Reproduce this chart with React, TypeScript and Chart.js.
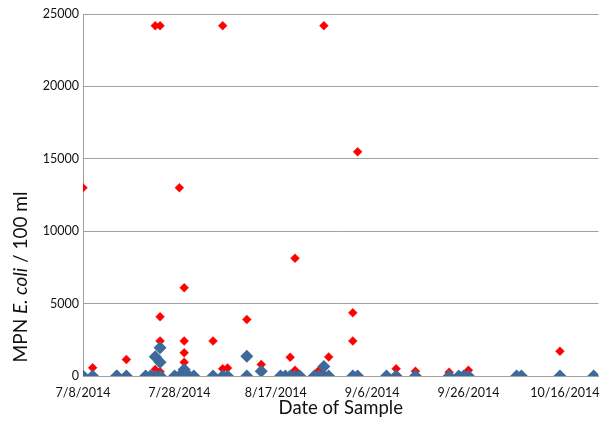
import { useEffect, useRef } from 'react';
import { Chart, registerables } from 'chart.js';

Chart.register(...registerables);

// ---- data ----
const baseDate = '7/8/2014';
const xMaxDays = 107;
const xStepDays = 20;
const yMax = 25000;
const yStep = 5000;

const blueDates = [
  '7/8/2014', '7/10/2014', '7/15/2014', '7/15/2014', '7/17/2014', '7/21/2014', '7/22/2014',
  '7/23/2014', '7/23/2014', '7/24/2014', '7/24/2014', '7/24/2014', '7/24/2014', '7/27/2014',
  '7/28/2014', '7/29/2014', '7/29/2014', '7/30/2014', '7/31/2014', '8/4/2014', '8/6/2014',
  '8/7/2014', '8/11/2014', '8/11/2014', '8/14/2014', '8/18/2014', '8/19/2014', '8/20/2014',
  '8/21/2014', '8/22/2014', '8/25/2014', '8/26/2014', '8/27/2014', '8/27/2014', '8/28/2014',
  '9/2/2014', '9/3/2014', '9/9/2014', '9/11/2014', '9/15/2014', '9/22/2014', '9/24/2014',
  '9/25/2014', '9/26/2014', '10/6/2014', '10/7/2014', '10/15/2014', '10/22/2014',
];
const blueValues = [
  0, 0, 0, 0, 0, 0, 0,
  0, 1330, 0, 1950, 950, 0, 0,
  0, 0, 450, 0, 0, 0, 0,
  0, 0, 1370, 330, 0, 0, 0,
  0, 0, 0, 0, 0, 650, 0,
  0, 0, 0, 0, 0, 0, 0,
  0, 0, 0, 0, 0, 0,
];

const redDates = [
  '7/8/2014', '7/10/2014', '7/17/2014', '7/23/2014', '7/23/2014', '7/24/2014', '7/24/2014',
  '7/24/2014', '7/24/2014', '7/28/2014', '7/29/2014', '7/29/2014', '7/29/2014', '7/29/2014',
  '8/4/2014', '8/6/2014', '8/6/2014', '8/7/2014', '8/11/2014', '8/14/2014', '8/20/2014',
  '8/21/2014', '8/21/2014', '8/26/2014', '8/27/2014', '8/28/2014', '9/2/2014', '9/2/2014',
  '9/3/2014', '9/11/2014', '9/15/2014', '9/22/2014', '9/26/2014', '10/15/2014',
];
const redValues = [
  13000, 570, 1140, 24196, 450, 24196, 4090,
  2420, 300, 13000, 6090, 2420, 1600, 950,
  2420, 24196, 500, 560, 3900, 800, 1300,
  8130, 400, 400, 24196, 1320, 4360, 2420,
  15480, 500, 330, 260, 400, 1710,
];

const yTitleParts = [
  { text: 'MPN ', italic: false },
  { text: 'E. coli', italic: true },
  { text: ' / 100 ml', italic: false },
];
const xTitle = 'Date of Sample';

// ---- helpers ----
const DAY_MS = 86400000;
function parseDate(s: string): number {
  const [m, d, y] = s.split('/').map(Number);
  return Date.UTC(y, m - 1, d);
}
const baseMs = parseDate(baseDate);
function toDay(s: string): number {
  return Math.round((parseDate(s) - baseMs) / DAY_MS);
}
function fmtDay(v: number): string {
  const dt = new Date(baseMs + v * DAY_MS);
  return `${dt.getUTCMonth() + 1}/${dt.getUTCDate()}/${dt.getUTCFullYear()}`;
}

const FONT = 'Lato, "Open Sans", sans-serif';

const yTitlePlugin = {
  id: 'yTitleMixed',
  afterDraw(chart: any) {
    const ctx = chart.ctx as CanvasRenderingContext2D;
    const size = 19;
    const cx = 21;
    const cy = 277;
    ctx.save();
    ctx.translate(cx, cy);
    ctx.rotate(-Math.PI / 2);
    ctx.fillStyle = '#111';
    ctx.textBaseline = 'middle';
    ctx.textAlign = 'left';
    const widths = yTitleParts.map((p) => {
      ctx.font = `${p.italic ? 'italic ' : ''}${size}px ${FONT}`;
      return ctx.measureText(p.text).width;
    });
    const total = widths.reduce((a, b) => a + b, 0);
    let x = -total / 2;
    yTitleParts.forEach((p, i) => {
      ctx.font = `${p.italic ? 'italic ' : ''}${size}px ${FONT}`;
      ctx.fillText(p.text, x, 0);
      x += widths[i];
    });
    ctx.restore();
  },
};

export default function App() {
  const ref = useRef<HTMLCanvasElement | null>(null);

  useEffect(() => {
    if (!ref.current) return;
    const chart = new Chart(ref.current, {
      type: 'scatter',
      data: {
        datasets: [
          {
            label: 'Series 1',
            data: blueDates.map((d, i) => ({ x: toDay(d), y: blueValues[i] })),
            pointStyle: 'rectRot',
            pointRadius: 6.5,
            pointHoverRadius: 6.5,
            backgroundColor: '#3E6A9B',
            borderColor: '#3E6A9B',
            borderWidth: 0,
          },
          {
            label: 'Series 2',
            data: redDates.map((d, i) => ({ x: toDay(d), y: redValues[i] })),
            pointStyle: 'rectRot',
            pointRadius: 4.5,
            pointHoverRadius: 4.5,
            backgroundColor: '#FF0000',
            borderColor: 'rgba(255,0,0,0.35)',
            borderWidth: 1,
          },
        ],
      },
      options: {
        responsive: false,
        animation: false,
        events: [],
        layout: { padding: { top: 14, right: 0, left: 0, bottom: 0 } },
        plugins: {
          legend: { display: false },
          tooltip: { enabled: false },
          title: { display: false },
        },
        scales: {
          x: {
            type: 'linear',
            min: 0,
            max: xMaxDays,
            grid: { display: false, drawTicks: true, tickLength: 9 },
            border: { display: true, color: '#a0a0a0', width: 1 },
            ticks: {
              stepSize: xStepDays,
              includeBounds: false,
              padding: 0,
              color: '#111',
              font: { family: FONT, size: 12.5 },
              maxRotation: 0,
              callback: (v: any) => fmtDay(Number(v)),
            },
            title: {
              display: true,
              text: xTitle,
              color: '#111',
              font: { family: FONT, size: 18.5 },
              padding: { top: 0, bottom: 2 },
            },
            afterFit: (s: any) => {
              s.height = 45;
              s.paddingLeft = 0;
              s.paddingRight = 0;
            },
          },
          y: {
            min: 0,
            max: yMax,
            grid: { color: '#a0a0a0', lineWidth: 1, drawTicks: false },
            border: { display: true, color: '#a0a0a0', width: 1 },
            ticks: {
              stepSize: yStep,
              padding: 4,
              color: '#111',
              font: { family: FONT, size: 12.5 },
              callback: (v: any) => String(v),
            },
            afterFit: (s: any) => {
              s.width = 83;
            },
          },
        },
      },
      plugins: [yTitlePlugin],
    });
    return () => chart.destroy();
  }, []);

  return (
    <div
      style={{
        position: 'fixed',
        left: 0,
        top: 0,
        width: 600,
        height: 421,
        overflow: 'hidden',
        background: '#fff',
      }}
    >
      <canvas ref={ref} width={605} height={421} style={{ display: 'block' }} />
    </div>
  );
}
